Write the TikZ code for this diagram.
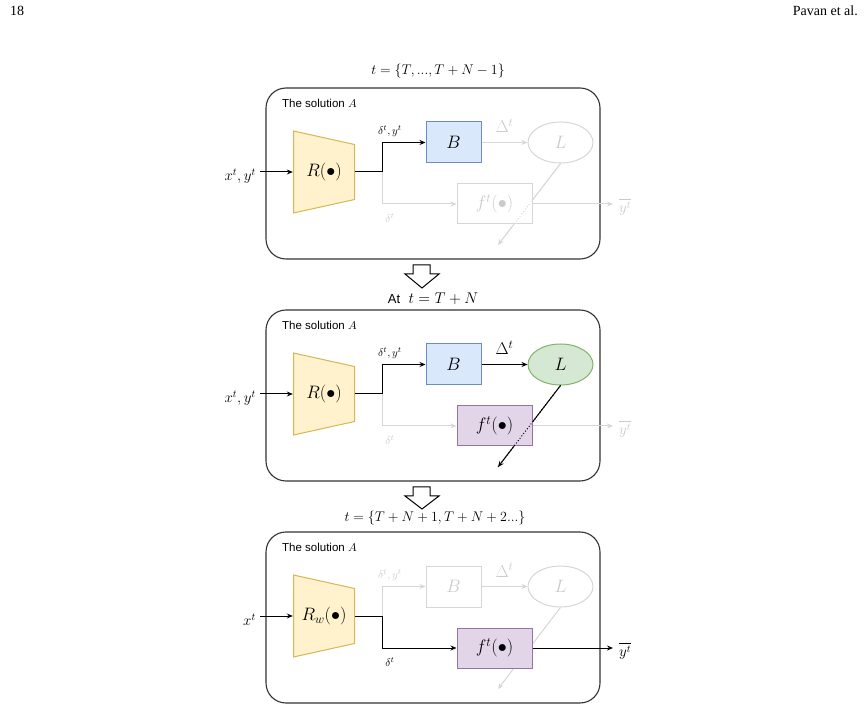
\RequirePackage{fix-cm}
\documentclass[tikz,border=0pt]{standalone}
\usepackage{amsmath,amssymb}
\usepackage{fontspec}
\newfontfamily\headfont{Liberation Serif}
\newfontfamily\labfont{Liberation Sans}
\usetikzlibrary{shapes.geometric, arrows.meta, positioning, calc}

\definecolor{yfill}{HTML}{FFF2CC}
\definecolor{ydraw}{HTML}{D6B656}
\definecolor{bfill}{HTML}{DAE8FC}
\definecolor{bdraw}{HTML}{6C8EBF}
\definecolor{gfill}{HTML}{D5E8D4}
\definecolor{gdraw}{HTML}{82B366}
\definecolor{pfill}{HTML}{E1D5E7}
\definecolor{pdraw}{HTML}{9673A6}
\definecolor{offline}{HTML}{D6D6D6}
\definecolor{offtext}{HTML}{CACACA}

\begin{document}
\begin{tikzpicture}[
  x=1pt, y=-1pt,
  every node/.style={inner sep=0pt},
  panel/.style={
    rectangle, rounded corners=20pt, draw=black!80, line width=1.1pt,
    minimum width=334pt, minimum height=171pt
  },
  rbody/.style={
    minimum width=62pt, minimum height=83pt,
    font=\fontsize{18}{21}\selectfont,
    path picture={
      \draw[draw=ydraw, fill=yfill, line width=1pt]
        ([shift={(.5,.5)}]path picture bounding box.north west)
        -- ([shift={(-.5,14)}]path picture bounding box.north east)
        -- ([shift={(-.5,-14)}]path picture bounding box.south east)
        -- ([shift={(.5,-.5)}]path picture bounding box.south west) -- cycle;
    }
  },
  bbox/.style={
    rectangle, draw=bdraw, fill=bfill, line width=1pt,
    minimum width=55pt, minimum height=41pt,
    font=\fontsize{18}{21}\selectfont
  },
  lnode/.style={
    ellipse, draw=gdraw, fill=gfill, line width=1pt,
    minimum width=65pt, minimum height=41pt,
    font=\fontsize{18}{21}\selectfont
  },
  fbox/.style={
    rectangle, draw=pdraw, fill=pfill, line width=1pt,
    minimum width=75pt, minimum height=40pt,
    font=\fontsize{18}{21}\selectfont
  },
  off/.style={draw=offline, fill=white, text=offtext},
  arr/.style={-{Stealth[length=6pt,width=5pt]}, line width=1pt, draw=black},
  offarr/.style={arr, draw=offline},
  small/.style={font=\fontsize{11}{13}\selectfont},
  dlab/.style={font=\fontsize{17}{20}\selectfont},
  ylab/.style={font=\fontsize{15}{18}\selectfont, anchor=west},
  inlab/.style={font=\fontsize{15}{18}\selectfont, anchor=east},
  title/.style={font=\fontsize{14}{17}\selectfont},
  caption/.style={font=\labfont\fontsize{11.5}{14}\selectfont, anchor=west},
  bigdown/.style={draw=black, fill=white, line width=1pt, line join=miter}
]
\useasboundingbox (0,0) rectangle (868,708);

% Page header
\node[font=\headfont\fontsize{14}{16}\selectfont, anchor=west] (pnum) at (10,11) {18};
\node[font=\headfont\fontsize{14}{16}\selectfont, anchor=east] (pauth) at (858,11) {Pavan et al.};

% Titles
\node[title] (time1) at (438,71) {$t = \{T, ..., T+N-1\}$};
\node[title] (time2) at (433,299) {{\labfont\fontsize{13}{15}\selectfont At}\; {\fontsize{15.5}{18}\selectfont$t = T+N$}};
\node[title] (time3) at (435,518) {$t = \{T+N+1, T+N+2...\}$};

% Block arrows
\draw[bigdown] (413,265) -- (430,265) -- (430,274) -- (439,274) -- (422,288)
  -- (405,274) -- (413,274) -- cycle;
\draw[bigdown] (413,487) -- (430,487) -- (430,496) -- (439,496) -- (422,509)
  -- (405,496) -- (413,496) -- cycle;

% Panel 1: training
\node[panel] (sol1) at (433,173.5) {};
\node[caption] (cap1) at (282,103) {The solution $A$};
\node[rbody] (R1) at (324,172) {$R(\bullet)$};
\node[inlab] (xin1) at (256,176) {$x^t, y^t$};
\node[bbox] (B1) at (453.5,142.5) {$B$};
\node[lnode, off] (L1) at (560.5,142.5) {$L$};
\coordinate (tip1) at (498,245);
\coordinate (out1) at (613,204);
\draw[offarr] (L1.south) -- (tip1);
\node[fbox, off] (f1) at (494.5,204) {$f^t(\bullet)$};
\draw[offline, line width=1pt, dotted] (L1.south) -- (tip1);
\draw[arr] ([xshift=4pt]xin1.east |- R1.west) -- (R1.west);
\draw[offarr] (R1.east) -- ++(27,0) |- (f1.west);
\draw[arr] (R1.east) -- ++(27,0) |- (B1.west);
\node[small] (dy1) at (390,131) {$\delta^t, y^t$};
\node[small, text=offtext] (d1) at (390,218) {$\delta^t$};
\draw[offarr] (B1.east) -- node[above=9pt, dlab, text=offtext] (D1) {$\Delta^t$} (L1.west);
\draw[offarr] (f1.east) -- (out1);
\node[ylab, text=offtext] (yb1) at (619,207) {$\overline{y^t}$};

% Panel 2: update at T+N
\begin{scope}[shift={(0,222)}]
\node[panel] (sol2) at (433,173.5) {};
\node[caption] (cap2) at (282,103) {The solution $A$};
\node[rbody] (R2) at (324,172) {$R(\bullet)$};
\node[inlab] (xin2) at (256,176) {$x^t, y^t$};
\node[bbox] (B2) at (453.5,142.5) {$B$};
\node[lnode] (L2) at (560.5,142.5) {$L$};
\coordinate (tip2) at (498,245);
\coordinate (out2) at (613,204);
\draw[arr] (L2.south) -- (tip2);
\node[fbox] (f2) at (494.5,204) {$f^t(\bullet)$};
\draw[black, line width=1pt, dotted] (L2.south) -- (tip2);
\draw[arr] ([xshift=4pt]xin2.east |- R2.west) -- (R2.west);
\draw[offarr] (R2.east) -- ++(27,0) |- (f2.west);
\draw[arr] (R2.east) -- ++(27,0) |- (B2.west);
\node[small] (dy2) at (390,131) {$\delta^t, y^t$};
\node[small, text=offtext] (d2) at (390,218) {$\delta^t$};
\draw[arr] (B2.east) -- node[above=9pt, dlab] (D2) {$\Delta^t$} (L2.west);
\draw[offarr] (f2.east) -- (out2);
\node[ylab, text=offtext] (yb2) at (619,207) {$\overline{y^t}$};
\end{scope}

% Panel 3: inference
\begin{scope}[shift={(0,444)}]
\node[panel] (sol3) at (433,173.5) {};
\node[caption] (cap3) at (282,103) {The solution $A$};
\node[rbody] (R3) at (324,172) {$R_w(\bullet)$};
\node[inlab] (xin3) at (256,176) {$x^t$};
\node[bbox, off] (B3) at (453.5,142.5) {$B$};
\node[lnode, off] (L3) at (560.5,142.5) {$L$};
\coordinate (tip3) at (498,245);
\coordinate (out3) at (613,204);
\draw[offarr] (L3.south) -- (tip3);
\node[fbox] (f3) at (494.5,204) {$f^t(\bullet)$};
\draw[arr] ([xshift=4pt]xin3.east |- R3.west) -- (R3.west);
\draw[offarr] (R3.east) -- ++(27,0) |- (B3.west);
\draw[arr] (R3.east) -- ++(27,0) |- (f3.west);
\node[small, text=offtext] (dy3) at (390,131) {$\delta^t, y^t$};
\node[small] (d3) at (390,218) {$\delta^t$};
\draw[offarr] (B3.east) -- node[above=9pt, dlab, text=offtext] (D3) {$\Delta^t$} (L3.west);
\draw[arr] (f3.east) -- (out3);
\node[ylab] (yb3) at (619,207) {$\overline{y^t}$};
\end{scope}

\end{tikzpicture}
\end{document}
